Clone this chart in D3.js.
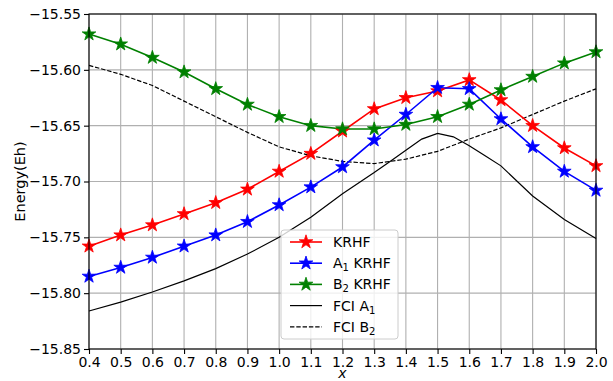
<!DOCTYPE html>
<html>
<head>
<meta charset="utf-8">
<script src="https://cdn.jsdelivr.net/npm/d3@7"></script>
<style>
html,body{margin:0;padding:0;background:#fff;}
svg{display:block;font-family:"DejaVu Sans",sans-serif;}
</style>
</head>
<body>
<svg id="chart" width="613" height="381"></svg>
<script>
const xValues = [0.4,0.5,0.6,0.7,0.8,0.9,1.0,1.1,1.2,1.3,1.4,1.5,1.6,1.7,1.8,1.9,2.0];
const krhf   = [-15.758,-15.748,-15.739,-15.729,-15.719,-15.707,-15.691,-15.675,-15.655,-15.635,-15.625,-15.619,-15.609,-15.627,-15.650,-15.670,-15.686];
const a1Krhf = [-15.785,-15.777,-15.768,-15.758,-15.748,-15.736,-15.721,-15.705,-15.687,-15.663,-15.640,-15.616,-15.617,-15.644,-15.669,-15.691,-15.708];
const b2Krhf = [-15.568,-15.577,-15.589,-15.602,-15.617,-15.631,-15.642,-15.650,-15.653,-15.653,-15.649,-15.642,-15.631,-15.618,-15.606,-15.594,-15.584];
const fciX   = [0.4,0.5,0.6,0.7,0.8,0.9,1.0,1.1,1.2,1.3,1.35,1.4,1.45,1.5,1.55,1.6,1.65,1.7,1.8,1.9,2.0];
const fciA1  = [-15.816,-15.808,-15.799,-15.789,-15.778,-15.765,-15.750,-15.732,-15.711,-15.692,-15.682,-15.672,-15.662,-15.657,-15.660,-15.668,-15.677,-15.686,-15.713,-15.734,-15.751];
const fciB2X = [0.4,0.5,0.6,0.7,0.8,0.9,1.0,1.1,1.2,1.3,1.4,1.5,1.6,1.7,1.8,1.9,2.0];
const fciB2  = [-15.596,-15.604,-15.614,-15.628,-15.642,-15.656,-15.669,-15.677,-15.682,-15.684,-15.680,-15.673,-15.662,-15.652,-15.640,-15.628,-15.617];
const xTicks = [0.4,0.5,0.6,0.7,0.8,0.9,1.0,1.1,1.2,1.3,1.4,1.5,1.6,1.7,1.8,1.9,2.0];
const yTicks = [-15.85,-15.80,-15.75,-15.70,-15.65,-15.60,-15.55];

const svg = d3.select("#chart");
const L = 89, R = 596, T = 14, B = 349;
const x = d3.scaleLinear().domain([0.4, 2.0]).range([L, R]);
const y = d3.scaleLinear().domain([-15.85, -15.55]).range([B, T]);

// grid
const g = svg.append("g");
g.selectAll(".gx").data(xTicks).enter().append("line")
  .attr("x1", d => x(d)).attr("x2", d => x(d)).attr("y1", T).attr("y2", B)
  .attr("stroke", "#b0b0b0").attr("stroke-width", 1.1);
g.selectAll(".gy").data(yTicks).enter().append("line")
  .attr("y1", d => y(d)).attr("y2", d => y(d)).attr("x1", L).attr("x2", R)
  .attr("stroke", "#b0b0b0").attr("stroke-width", 1.1);

// axes
const fmtY = d => d3.format(".2f")(d).replace("-", "\u2212");
const xAxis = d3.axisBottom(x).tickValues(xTicks).tickFormat(d3.format(".1f")).tickSizeOuter(0).tickSize(5).tickPadding(3);
const yAxis = d3.axisLeft(y).tickValues(yTicks).tickFormat(fmtY).tickSizeOuter(0).tickSize(5).tickPadding(3);
const gx = svg.append("g").attr("transform", `translate(0,${B})`).call(xAxis);
const gy = svg.append("g").attr("transform", `translate(${L},0)`).call(yAxis);
[gx, gy].forEach(a => {
  a.select(".domain").remove();
  a.selectAll("text").attr("font-family", "DejaVu Sans").attr("font-size", 14).attr("fill", "#000");
  a.selectAll("line").attr("stroke", "#000").attr("stroke-width", 1.1);
});

// lines
const lineGen = (xs) => d3.line().x((d, i) => x(xs[i])).y(d => y(d));
const plot = svg.append("g");
plot.append("path").datum(fciA1).attr("d", lineGen(fciX)).attr("fill", "none")
  .attr("stroke", "#000").attr("stroke-width", 1.2);
plot.append("path").datum(fciB2).attr("d", lineGen(fciB2X)).attr("fill", "none")
  .attr("stroke", "#000").attr("stroke-width", 1.2).attr("stroke-dasharray", "4.4,1.9");

const star = d3.symbol().type(d3.symbolStar).size(58);
const series = [
  {vals: krhf, color: "#ff0000"},
  {vals: a1Krhf, color: "#0000ff"},
  {vals: b2Krhf, color: "#008000"}
];
series.forEach(s => {
  plot.append("path").datum(s.vals).attr("d", lineGen(xValues)).attr("fill", "none")
    .attr("stroke", s.color).attr("stroke-width", 1.6);
});
series.forEach(s => {
  plot.selectAll(null).data(s.vals).enter().append("path")
    .attr("d", star).attr("transform", (d, i) => `translate(${x(xValues[i])},${y(d)})`)
    .attr("fill", s.color).attr("stroke", s.color).attr("stroke-width", 0.8);
});

// frame
svg.append("rect").attr("x", L).attr("y", T).attr("width", R - L).attr("height", B - T)
  .attr("fill", "none").attr("stroke", "#000").attr("stroke-width", 1.1);

// axis labels
svg.append("text").attr("transform", `translate(25,${(T + B) / 2}) rotate(-90)`)
  .attr("text-anchor", "middle").attr("font-size", 14.5).text("Energy(Eh)");
svg.append("text").attr("x", (L + R) / 2).attr("y", 378).attr("text-anchor", "middle")
  .attr("font-size", 14).attr("font-style", "italic").text("x");

// legend
const legItems = [
  {main: "KRHF", sub: null, rest: "", color: "#ff0000", marker: true, dash: null},
  {main: "A", sub: "1", rest: " KRHF", color: "#0000ff", marker: true, dash: null},
  {main: "B", sub: "2", rest: " KRHF", color: "#008000", marker: true, dash: null},
  {main: "FCI A", sub: "1", rest: "", color: "#000", marker: false, dash: null},
  {main: "FCI B", sub: "2", rest: "", color: "#000", marker: false, dash: "4.4,1.9"}
];
const lg = svg.append("g");
lg.append("rect").attr("x", 281).attr("y", 230).attr("width", 117).attr("height", 109)
  .attr("rx", 3).attr("fill", "#fff").attr("fill-opacity", 0.8).attr("stroke", "#cccccc").attr("stroke-width", 1);
legItems.forEach((it, i) => {
  const yy = 242 + i * 21.2;
  lg.append("line").attr("x1", 290).attr("x2", 322).attr("y1", yy).attr("y2", yy)
    .attr("stroke", it.color).attr("stroke-width", it.marker ? 1.6 : 1.2)
    .attr("stroke-dasharray", it.dash);
  if (it.marker) {
    lg.append("path").attr("d", star).attr("transform", `translate(306,${yy})`)
      .attr("fill", it.color).attr("stroke", it.color).attr("stroke-width", 0.8);
  }
  const t = lg.append("text").attr("x", 333).attr("y", yy + 5).attr("font-size", 14);
  t.append("tspan").text(it.main);
  if (it.sub) {
    t.append("tspan").attr("font-size", 10).attr("dy", 3).text(it.sub);
    if (it.rest) t.append("tspan").attr("dy", -3).text(it.rest);
  }
});
</script>
</body>
</html>
